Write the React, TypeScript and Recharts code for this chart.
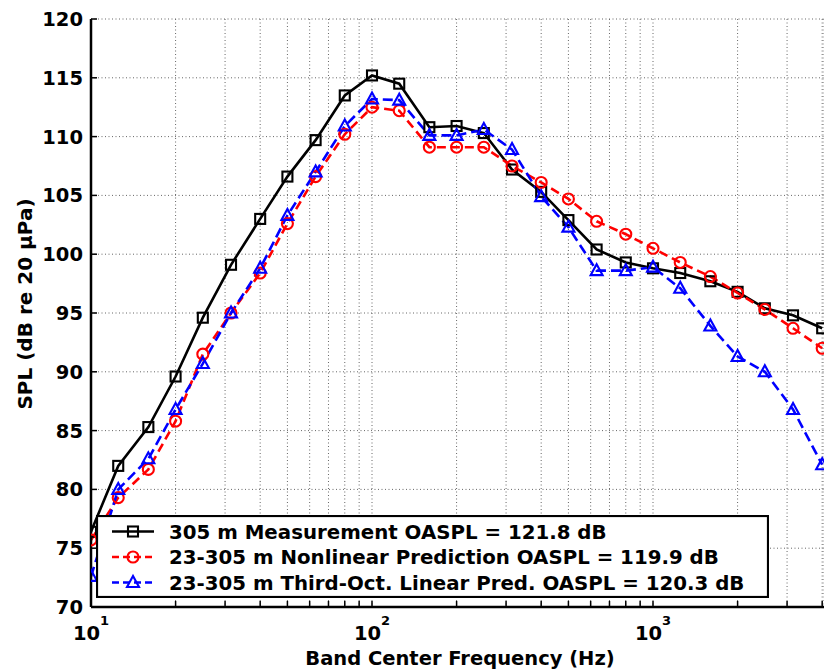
import React from 'react';
import { LineChart, Line, XAxis, YAxis, CartesianGrid, Legend } from 'recharts';

// Third-octave band centre frequencies (Hz)
const freqs = [10, 12.5, 16, 20, 25, 31.5, 40, 50, 63, 80, 100, 125, 160, 200, 250, 315, 400, 500, 630, 800, 1000, 1250, 1600, 2000, 2500, 3150, 4000];

// SPL values (dB re 20 µPa)
const measured = [76.4, 82.0, 85.3, 89.6, 94.6, 99.1, 103.0, 106.6, 109.7, 113.5, 115.2, 114.5, 110.8, 110.9, 110.3, 107.2, 105.3, 102.9, 100.4, 99.3, 98.8, 98.4, 97.7, 96.8, 95.4, 94.8, 93.7];
const nonlinear = [75.7, 79.3, 81.7, 85.8, 91.5, 95.0, 98.4, 102.6, 106.6, 110.2, 112.5, 112.2, 109.1, 109.1, 109.1, 107.5, 106.1, 104.7, 102.8, 101.7, 100.5, 99.3, 98.1, 96.7, 95.3, 93.7, 92.0];
const linear = [72.6, 80.0, 82.6, 86.8, 90.7, 95.0, 98.8, 103.3, 107.0, 110.9, 113.2, 113.1, 110.1, 110.1, 110.6, 108.9, 104.9, 102.3, 98.6, 98.6, 98.9, 97.1, 93.9, 91.3, 90.0, 86.8, 82.1];

const seriesNames = [
  '305 m Measurement OASPL = 121.8 dB',
  '23-305 m Nonlinear Prediction OASPL = 119.9 dB',
  '23-305 m Third-Oct. Linear Pred. OASPL = 120.3 dB',
];

const xTicks = [10, 20, 30, 40, 50, 60, 70, 80, 90, 100, 200, 300, 400, 500, 600, 700, 800, 900, 1000, 2000, 3000, 4000];
const xLabelTicks = [10, 100, 1000];
const yTicks = [70, 75, 80, 85, 90, 95, 100, 105, 110, 115, 120];

const xTitle = 'Band Center Frequency (Hz)';
const yTitle = 'SPL (dB re 20 \u03bcPa)';

const FONT = '"DejaVu Sans", "Liberation Sans", sans-serif';
const LW = 2.6;
const MW = 2.1;

const data = freqs.map((f, i) => ({
  f,
  measured: measured[i],
  nonlinear: nonlinear[i],
  linear: linear[i],
}));

function BottomTick(props: any) {
  const { x, y, payload } = props;
  const v = payload.value;
  const showLabel = xLabelTicks.includes(v);
  return (
    <g>
      <line x1={x} y1={y} x2={x} y2={y - 6} stroke="#000" strokeWidth={1.5} />
      {showLabel && (
        <text x={x} y={y + 33} textAnchor="middle" fontFamily={FONT} fontWeight="bold" fontSize={19.5} fill="#000">
          10
          <tspan dy={-15} fontSize={13}>{String(Math.round(Math.log10(v)))}</tspan>
        </text>
      )}
    </g>
  );
}

function TopTick(props: any) {
  const { x, y } = props;
  return <line x1={x} y1={y} x2={x} y2={y + 6} stroke="#000" strokeWidth={1.5} />;
}

function LeftTick(props: any) {
  const { x, y, payload } = props;
  return (
    <g>
      <line x1={x} y1={y} x2={x + 6} y2={y} stroke="#000" strokeWidth={1.5} />
      <text x={x - 8} y={y} dy="0.36em" textAnchor="end" fontFamily={FONT} fontWeight="bold" fontSize={19.5} fill="#000">
        {payload.value}
      </text>
    </g>
  );
}

function Square(props: any) {
  const { cx, cy, index } = props;
  return <rect key={`s-${index}`} x={cx - 5} y={cy - 5} width={10} height={10} fill="none" stroke="#000" strokeWidth={MW} />;
}

function Circle(props: any) {
  const { cx, cy, index } = props;
  return <circle key={`c-${index}`} cx={cx} cy={cy} r={5.5} fill="none" stroke="#ff0000" strokeWidth={MW} />;
}

function Triangle(props: any) {
  const { cx, cy, index } = props;
  const pts = `${cx},${cy - 6.5} ${cx - 6},${cy + 4.5} ${cx + 6},${cy + 4.5}`;
  return <polygon key={`t-${index}`} points={pts} fill="none" stroke="#0000ff" strokeWidth={MW} />;
}

function LegendBox() {
  const rows = [
    { name: seriesNames[0], color: '#000', dash: undefined as string | undefined, marker: 'square' },
    { name: seriesNames[1], color: '#ff0000', dash: '7 4', marker: 'circle' },
    { name: seriesNames[2], color: '#0000ff', dash: '7 4', marker: 'triangle' },
  ];
  return (
    <svg width={673} height={83} style={{ display: 'block' }}>
      <rect x={1} y={1} width={671} height={81} fill="#fff" stroke="#000" strokeWidth={2.2} />
      {rows.map((r, i) => {
        const cy = 16.5 + i * 25.5;
        const mx = 37;
        let marker;
        if (r.marker === 'square') marker = <rect x={mx - 5} y={cy - 5} width={10} height={10} fill="none" stroke={r.color} strokeWidth={MW} />;
        else if (r.marker === 'circle') marker = <circle cx={mx} cy={cy} r={5.5} fill="none" stroke={r.color} strokeWidth={MW} />;
        else marker = <polygon points={`${mx},${cy - 6.5} ${mx - 6},${cy + 4.5} ${mx + 6},${cy + 4.5}`} fill="none" stroke={r.color} strokeWidth={MW} />;
        return (
          <g key={i}>
            <line x1={16} x2={58} y1={cy} y2={cy} stroke={r.color} strokeWidth={LW} strokeDasharray={r.dash} />
            {marker}
            <text x={73} y={cy} dy="0.36em" fontFamily={FONT} fontWeight="bold" fontSize={19.8} fill="#000">
              {r.name}
            </text>
          </g>
        );
      })}
    </svg>
  );
}

export default function App() {
  return (
    <div style={{ position: 'absolute', left: 0, top: 0, width: 824, height: 672, background: '#fff' }}>
      <LineChart width={824} height={672} data={data} margin={{ top: 19, right: 0, bottom: 0, left: 0 }} style={{ fontFamily: FONT }}>
        <CartesianGrid stroke="#666" strokeDasharray="1 2.5" strokeWidth={1} />
        <XAxis
          dataKey="f"
          type="number"
          scale="log"
          domain={[10, 4060]}
          allowDataOverflow
          ticks={xTicks}
          interval={0}
          tickSize={0}
          tickMargin={0}
          tickLine={false}
          tick={BottomTick}
          height={65}
          axisLine={{ stroke: '#000', strokeWidth: 2.5 }}
          label={() => (
            <text x={460} y={665} textAnchor="middle" fontFamily={FONT} fontWeight="bold" fontSize={19.5} fill="#000">
              {xTitle}
            </text>
          )}
        />
        <XAxis
          xAxisId="top"
          orientation="top"
          dataKey="f"
          type="number"
          scale="log"
          domain={[10, 4060]}
          allowDataOverflow
          ticks={xTicks}
          interval={0}
          tickSize={0}
          tickMargin={0}
          tickLine={false}
          tick={TopTick}
          height={0}
          axisLine={{ stroke: '#000', strokeWidth: 2.5 }}
        />
        <YAxis
          type="number"
          domain={[70, 120]}
          ticks={yTicks}
          interval={0}
          width={91}
          tickSize={0}
          tickMargin={0}
          tickLine={false}
          tick={LeftTick}
          axisLine={{ stroke: '#000', strokeWidth: 2.5 }}
          label={() => (
            <text
              x={25}
              y={304}
              transform="rotate(-90, 25, 304)"
              textAnchor="middle"
              dominantBaseline="central"
              fontFamily={FONT}
              fontWeight="bold"
              fontSize={20}
              fill="#000"
            >
              {yTitle}
            </text>
          )}
        />
        <Line
          dataKey="measured"
          name={seriesNames[0]}
          type="linear"
          stroke="#000"
          strokeWidth={LW}
          dot={Square}
          activeDot={false}
          isAnimationActive={false}
        />
        <Line
          dataKey="nonlinear"
          name={seriesNames[1]}
          type="linear"
          stroke="#ff0000"
          strokeWidth={LW}
          strokeDasharray="9 5"
          dot={Circle}
          activeDot={false}
          isAnimationActive={false}
        />
        <Line
          dataKey="linear"
          name={seriesNames[2]}
          type="linear"
          stroke="#0000ff"
          strokeWidth={LW}
          strokeDasharray="10 5"
          dot={Triangle}
          activeDot={false}
          isAnimationActive={false}
        />
        <Legend
          layout="horizontal"
          verticalAlign="middle"
          align="center"
          width={673}
          height={83}
          wrapperStyle={{ left: 96, top: 515, width: 673, height: 83, margin: 0, padding: 0 }}
          content={() => <LegendBox />}
        />
      </LineChart>
    </div>
  );
}
